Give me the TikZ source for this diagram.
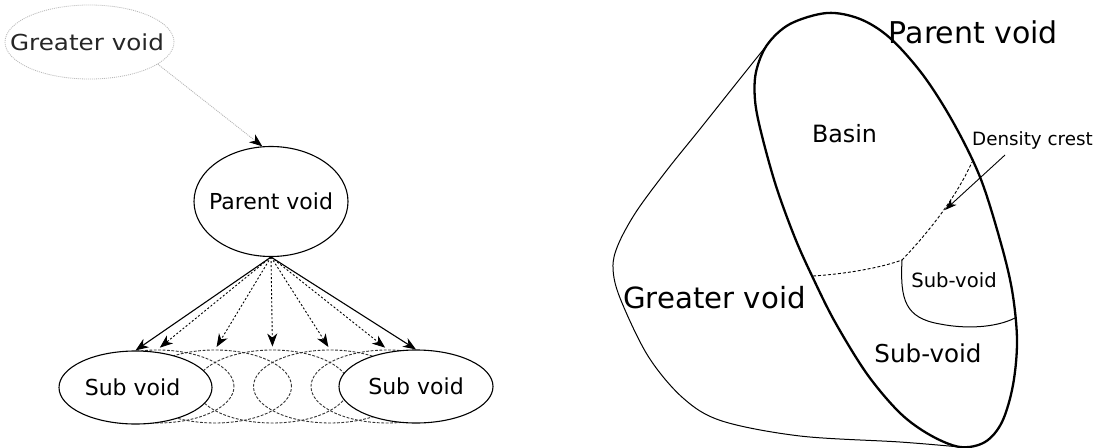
\documentclass[tikz,border=0pt]{standalone}
\usepackage{fontspec}
\usepackage{graphicx}
\setmainfont{DejaVu Sans}
\usetikzlibrary{arrows.meta,shapes.geometric}
\begin{document}
\begin{tikzpicture}[x=1pt,y=-1pt,
  lfont/.style={font=\fontsize{22}{26}\selectfont},
  voidnode/.style={ellipse, draw=black, line width=1.1pt, fill=white, inner sep=0pt,
    minimum width=153pt, minimum height=73pt, lfont},
  ghost/.style={ellipse, draw=black!80, line width=0.9pt, dash pattern=on 2.8pt off 1.6pt,
    inner sep=0pt, minimum width=153pt, minimum height=73pt},
  head/.style={-{Stealth[length=13pt,width=10pt,inset=4pt,color=black]}},
  smallhead/.style={-{Stealth[length=12pt,width=8pt,inset=3.5pt,color=black]}},
  dotarrow/.style={line width=0.9pt, dash pattern=on 2pt off 2pt, head, shorten >=3pt},
  solidarrow/.style={line width=1.1pt, head},
  lbl/.style={anchor=base, inner sep=0pt},
  bold/.style={line width=2.3pt, line join=round},
  thinline/.style={line width=1pt, line join=round},
  crest/.style={line width=0.9pt, dash pattern=on 3pt off 2pt}
]
\useasboundingbox (0,0) rectangle (1100,447);
\fill[white] (0,0) rectangle (1100,447);

% ---------- left diagram ----------
\node[ghost] (d1) at (157.5,386.5) {};
\node[ghost] (d2) at (215,386.5) {};
\node[ghost] (d3) at (272.5,386.5) {};
\node[ghost] (d4) at (330,386.5) {};
\node[ghost] (d5) at (387.5,386.5) {};

\node[voidnode] (sv1) at (135.5,387.5) {\makebox[0pt]{Sub void\kern6pt}};
\node[voidnode, minimum width=154pt] (sv2) at (416,386.5) {\makebox[0pt]{Sub void}};
\node[voidnode, minimum width=154pt, minimum height=110pt] (pv) at (271,201.5) {\makebox[0pt]{Parent void}};
\node[ellipse, draw=gray!55, dash pattern=on 1pt off 1pt, line width=0.8pt, inner sep=0pt,
  minimum width=169pt, minimum height=74pt, text=black!85, lfont] (gv) at (89.5,42)
  {\makebox[0pt]{\scalebox{1.12}[1]{Greater void}\kern5pt}};

\draw[gray!60, line width=0.8pt, dash pattern=on 1pt off 1pt, head] (gv.-18) -- (pv.99);
\foreach \d in {d1,d2,d3,d4,d5}
  \draw[dotarrow] (pv.south) -- (\d.north);
\draw[solidarrow] (pv.south) -- (sv1.north);
\draw[solidarrow] (pv.south) -- (sv2.north);

% ---------- right diagram ----------
\draw[thinline] plot[smooth, tension=0.55] coordinates {
  (767,45) (735,85) (700,129) (667,170) (636,212) (618,245) (613,268) (620,298)
  (648,356) (683,398) (722,421) (800,436) (900,442) (960,447)};

\draw[bold] plot[smooth cycle, tension=0.55] coordinates {
  (827,13) (860,19) (890,38) (923,75) (953,122) (980,177) (1000,240) (1012,290)
  (1017,340) (1013,385) (1002,422) (985,442) (960,447) (930,435) (900,413) (867,374)
  (835,322) (813,278) (795,238) (776,186) (761,132) (755,100) (756,72) (767,45) (790,24)};

\coordinate (cA) at (813,276);
\coordinate (cB) at (902,260);
\coordinate (cC) at (972,162);
\draw[crest] (cA) .. controls (845,274) and (880,268) .. (cB);
\draw[crest] (cB) .. controls (925,236) and (955,200) .. (cC);

\coordinate (sE) at (1015,318);
\draw[thinline] (cB) .. controls (900,300) and (905,318) .. (940,324)
  .. controls (965,329) and (995,328) .. (sE);

\coordinate (aS) at (1005,155);
\coordinate (aT) at (945,210);
\draw[line width=0.9pt, smallhead] (aS) -- (aT);

\node[lbl, font=\fontsize{30}{36}\selectfont] (tParent) at (973.5,43) {Parent void};
\node[lbl, font=\fontsize{29.2}{35}\selectfont] (tGreater) at (714.5,308) {Greater void};
\node[lbl, font=\fontsize{23.8}{28}\selectfont] (tBasin) at (844.5,142) {Basin};
\node[lbl, font=\fontsize{18.3}{22}\selectfont] (tCrest) at (1032.5,145) {Density crest};
\node[lbl, font=\fontsize{19.6}{24}\selectfont] (tSubA) at (954,287) {Sub-void};
\node[lbl, font=\fontsize{24.6}{30}\selectfont] (tSubB) at (928,362) {Sub-void};
\end{tikzpicture}
\end{document}
